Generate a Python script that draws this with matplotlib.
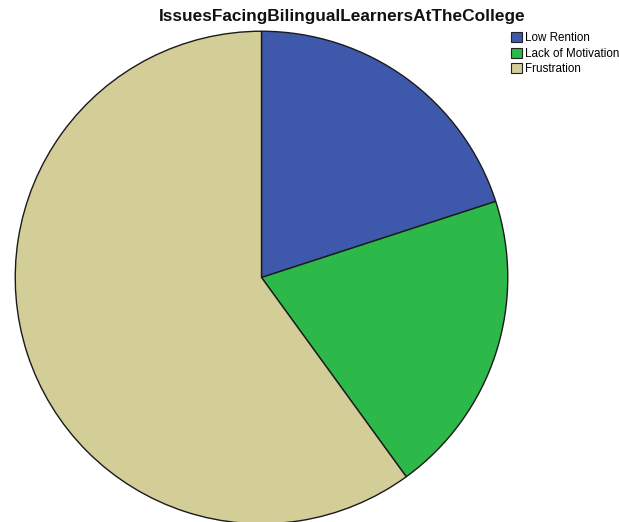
import matplotlib
matplotlib.use("Agg")
import matplotlib.pyplot as plt
from matplotlib.patches import Patch

categories = ["Low Rention", "Lack of Motivation", "Frustration"]
values = [20, 20, 60]
colors = ["#3E58AC", "#2DB84A", "#D3CE97"]
title = "IssuesFacingBilingualLearnersAtTheCollege"

plt.rcParams["font.family"] = ["Liberation Sans", "DejaVu Sans"]

W, H = 619, 522
fig = plt.figure(figsize=(W / 100, H / 100), dpi=100)

# pie axes placed in pixel terms: left 14, top 30, diameter 495
d = 495
ax = fig.add_axes([14 / W, (H - 30 - d) / H, d / W, d / H])
ax.pie(values, colors=colors, startangle=90, counterclock=False,
       radius=1.0, wedgeprops=dict(edgecolor="#1a1a1a", linewidth=1.0))
ax.set_xlim(-1.005, 1.005)
ax.set_ylim(-1.005, 1.005)
ax.set_aspect("equal")
ax.axis("off")

fig.text(342 / W, 1 - 17 / H, title, ha="center", va="center",
         fontsize=12.4, fontweight="bold", color="#111111")

handles = [Patch(facecolor=c, edgecolor="#222222", linewidth=0.8) for c in colors]
fig.legend(handles, categories, loc="upper left",
           bbox_to_anchor=(509 / W, 1 - 30 / H), frameon=False,
           fontsize=8.4, handlelength=0.9, handleheight=0.9,
           handletextpad=0.25, labelspacing=0.3, borderaxespad=0, borderpad=0.2)

fig.savefig("out.png", dpi=100)
